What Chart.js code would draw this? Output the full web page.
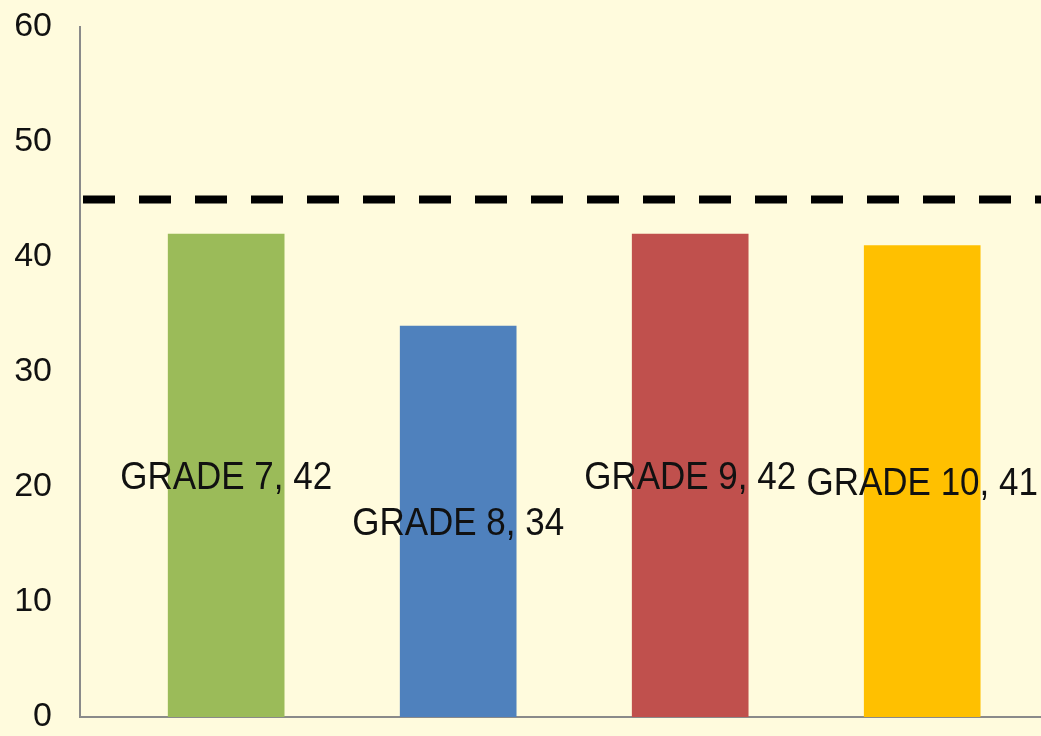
<!DOCTYPE html>
<html>
<head>
<meta charset="utf-8">
<script src="https://cdn.jsdelivr.net/npm/chart.js@4.4.1/dist/chart.umd.min.js"></script>
<style>
  html, body { margin: 0; padding: 0; background: #FFFBDD; }
  #wrap { width: 1041px; height: 736px; }
</style>
</head>
<body>
<div id="wrap"><canvas id="grades"></canvas></div>
<script>
// data
var grades = ['GRADE 7', 'GRADE 8', 'GRADE 9', 'GRADE 10'];
var scores = [42, 34, 42, 41];
var barColors = ['#9BBB59', '#4F81BD', '#C0504D', '#FFC000'];
var targetLine = 45;
var yTicks = [0, 10, 20, 30, 40, 50, 60];

// x range so the plot runs from the y axis to the right edge
var xMin = -0.63;
var xMax = 3.512;

// labels in the middle of each bar, "GRADE 7, 42" (a bit stretched, like the original)
var barLabels = {
  id: 'barLabels',
  afterDatasetsDraw: function(chart) {
    var ctx = chart.ctx;
    var y = chart.scales.y;
    var meta = chart.getDatasetMeta(0);
    ctx.save();
    ctx.font = '35px "Liberation Sans", Arial, sans-serif';
    ctx.fillStyle = '#111';
    ctx.textAlign = 'center';
    ctx.textBaseline = 'alphabetic';
    meta.data.forEach(function(bar, i) {
      ctx.save();
      ctx.translate(bar.x, y.getPixelForValue(scores[i] / 2));
      ctx.scale(1, 1.1);
      ctx.fillText(grades[i] + ', ' + scores[i], 0, 12.5);
      ctx.restore();
    });
    ctx.restore();
  }
};

var el = document.getElementById('grades');
var chart = new Chart(el, {
  type: 'bar',
  data: {
    datasets: [
      {
        label: 'Score',
        data: scores.map(function(v, i) { return { x: i, y: v }; }),
        backgroundColor: barColors,
        borderWidth: 0,
        barThickness: 116,
        order: 2
      },
      {
        type: 'line',
        label: 'Target',
        data: [{ x: xMin, y: targetLine }, { x: xMax, y: targetLine }],
        borderColor: '#000',
        borderWidth: 8,
        borderDash: [32, 24],
        borderDashOffset: -3,
        pointRadius: 0,
        fill: false,
        order: 1
      }
    ]
  },
  options: {
    responsive: true,
    maintainAspectRatio: false,
    animation: false,
    layout: { padding: { top: 27, right: 0, bottom: 19, left: 0 } },
    plugins: {
      legend: { display: false },
      tooltip: { enabled: false }
    },
    scales: {
      x: {
        type: 'linear',
        min: xMin,
        max: xMax,
        offset: false,
        afterFit: function(scale) { scale.height = 0; scale.paddingLeft = 0; scale.paddingRight = 0; },
        grid: { display: false, drawTicks: false },
        border: { display: true, color: '#8A8A8A', width: 2 },
        ticks: { display: false }
      },
      y: {
        min: 0,
        max: 60,
        afterFit: function(scale) {
          scale.width = 80;
          scale.paddingTop = 0;
          scale.paddingBottom = 0;
        },
        afterBuildTicks: function(scale) {
          scale.ticks = yTicks.map(function(v) { return { value: v }; });
        },
        grid: { display: false, drawTicks: false },
        border: { display: true, color: '#8A8A8A', width: 2 },
        ticks: {
          color: '#111',
          padding: 28,
          font: { family: '"Liberation Sans", Arial, sans-serif', size: 34 }
        }
      }
    }
  },
  plugins: [barLabels]
});
</script>
</body>
</html>
